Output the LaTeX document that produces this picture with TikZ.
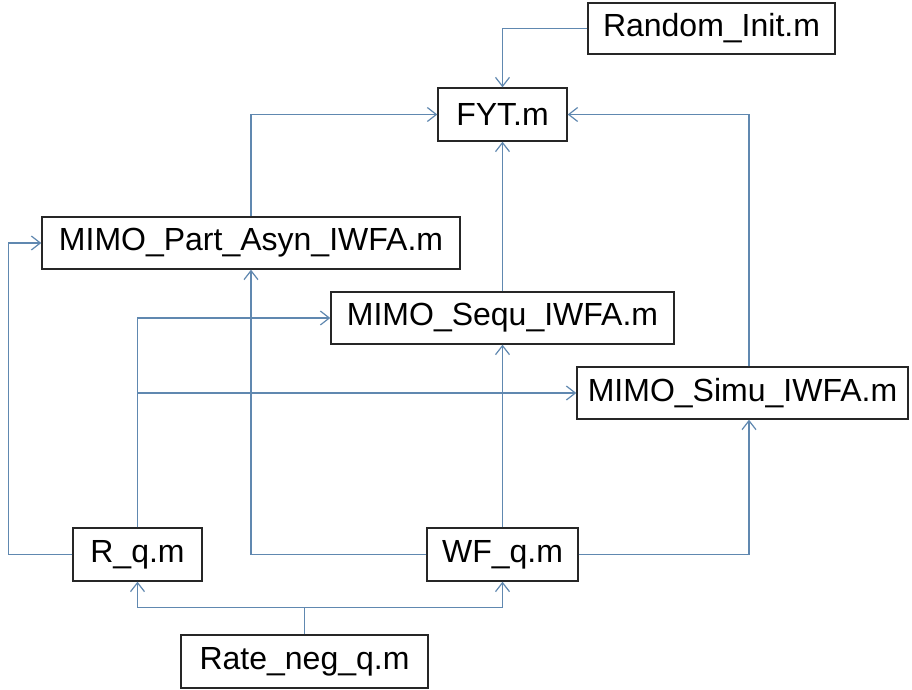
\documentclass[tikz,border=0pt]{standalone}
\usepackage{fontspec}
\setmainfont{Liberation Sans}
\usetikzlibrary{arrows.meta}
\definecolor{conncol}{RGB}{96,136,176}
\begin{document}
\begin{tikzpicture}[x=1pt,y=-1pt,
  box/.style={draw=black!85, line width=1.4pt, fill=white, rectangle, inner sep=0pt,
    font=\fontsize{32}{36}\selectfont, text=black},
  conn/.style={draw=conncol, line width=1.2pt,
    -{Straight Barb[length=9pt,width=14pt,line width=1.2pt]}},
  plain/.style={draw=conncol, line width=1.2pt}]
\fill[white] (0,0) rectangle (912,689);
\useasboundingbox (0,0) rectangle (912,689);

\node[box, minimum width=247pt, minimum height=51pt] (rand) at (711.5,28.5) {Random\_Init.m};
\node[box, minimum width=129pt, minimum height=53pt] (fyt) at (502.5,114.5) {FYT.m};
\node[box, minimum width=418pt, minimum height=52pt] (part) at (251,243) {MIMO\_Part\_Asyn\_IWFA.m};
\node[box, minimum width=343pt, minimum height=52pt] (sequ) at (502.5,318) {MIMO\_Sequ\_IWFA.m};
\node[box, minimum width=331pt, minimum height=52pt] (simu) at (742.5,393) {MIMO\_Simu\_IWFA.m};
\node[box, minimum width=129pt, minimum height=53pt] (rq) at (137.5,554.5) {R\_q.m};
\node[box, minimum width=151pt, minimum height=53pt] (wf) at (502.5,554.5) {WF\_q.m};
\node[box, minimum width=247pt, minimum height=53pt] (rate) at (304.5,661.5) {Rate\_neg\_q.m};

\coordinate (simutop) at ([xshift=6.5pt]simu.north);
\coordinate (simubot) at ([xshift=6.5pt]simu.south);
\coordinate (rqleft) at ([xshift=-64pt]rq.west);
\coordinate (split) at ([yshift=27pt]rate.north);

\draw[conn] (rand.west) -| (fyt.north);
\draw[conn] (part.north) |- (fyt.west);
\draw[conn] (simutop) |- (fyt.east);
\draw[conn] (sequ.north) -- (fyt.south);
\draw[conn] (rq.west) -- (rqleft) |- (part.west);
\draw[conn] (rq.north) |- (sequ.west);
\draw[conn] (rq.north) |- (simu.west);
\draw[conn] (wf.west) -| (part.south);
\draw[conn] (wf.north) -- (sequ.south);
\draw[conn] (wf.east) -| (simubot);
\draw[plain] (rate.north) -- (split);
\draw[conn] (split) -| (rq.south);
\draw[conn] (split) -| (wf.south);
\end{tikzpicture}
\end{document}
